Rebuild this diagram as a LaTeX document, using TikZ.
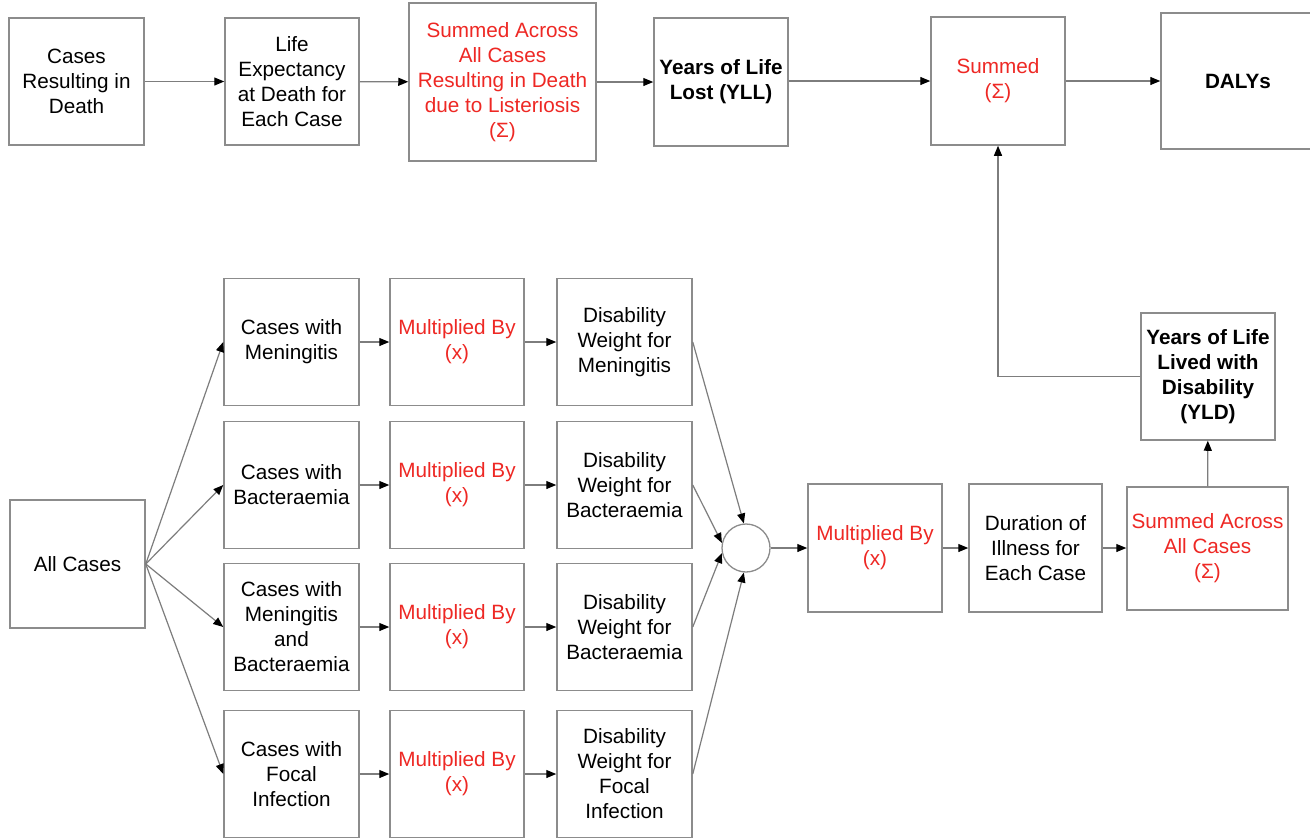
\documentclass[tikz,border=0pt]{standalone}
\usepackage{fontspec}
\setmainfont{Liberation Sans}
\usetikzlibrary{arrows.meta}
\definecolor{boxgray}{RGB}{140,140,140}
\definecolor{linegray}{RGB}{125,125,125}
\definecolor{redtxt}{RGB}{238,40,36}
\begin{document}
\begin{tikzpicture}[x=1pt,y=-1pt,
  box/.style={draw=boxgray,line width=1.5pt,rectangle,inner sep=0pt,align=center,
    font=\fontsize{20.7}{25}\selectfont,text=black},
  redt/.style={text=redtxt},
  boldt/.style={font=\fontsize{20.7}{25}\selectfont\bfseries},
  arr/.style={draw=linegray,line width=1.2pt,-{Triangle[length=10pt,width=8pt,color=black]}},
  conn/.style={draw=linegray,line width=1.2pt}]
\useasboundingbox (0,0) rectangle (1310,838);
\fill[white] (0,0) rectangle (1310,838);
% top row
\node[box,minimum width=135pt,minimum height=127pt] (d1) at (76.5,81.5) {Cases\\Resulting in\\Death};
\node[box,minimum width=134pt,minimum height=127pt] (d2) at (292,81.5) {Life\\Expectancy\\at Death for\\Each Case};
\node[box,redt,minimum width=187pt,minimum height=158pt] (d3) at (502.5,82) {Summed Across\\All Cases\\Resulting in Death\\due to Listeriosis\\(Σ)};
\node[box,boldt,minimum width=134pt,minimum height=128pt] (yll) at (721,82) {Years of Life\\Lost (YLL)};
\node[box,redt,minimum width=134pt,minimum height=128pt] (sum) at (998,81) {Summed\\(Σ)};
\node[box,boldt,minimum width=154pt,minimum height=136pt] (daly) at (1238,81) {DALYs};
\draw[arr] (d1) -- (d2);
\draw[arr] (d2) -- (d3);
\draw[arr] (d3) -- (yll.west|-d3.east);
\draw[arr] (yll.east|-sum.west) -- (sum);
\draw[arr] (sum.east) -- (daly.west);
% all cases
\node[box,minimum width=135pt,minimum height=128pt] (all) at (77.5,564) {All Cases};
% rows
\node[box,minimum width=135pt,minimum height=127pt] (c1) at (291.5,342) {Cases with\\Meningitis};
\node[box,minimum width=135pt,minimum height=127pt] (c2) at (291.5,485) {Cases with\\Bacteraemia};
\node[box,minimum width=135pt,minimum height=127pt] (c3) at (291.5,627) {Cases with\\Meningitis\\and\\Bacteraemia};
\node[box,minimum width=135pt,minimum height=127pt] (c4) at (291.5,774) {Cases with\\Focal\\Infection};
\foreach \i/\y in {1/342,2/485,3/627,4/774}{
  \node[box,redt,minimum width=134pt,minimum height=127pt] (m\i) at (457,\y) {Multiplied By\\(x)};
}
\node[box,minimum width=135pt,minimum height=127pt] (w1) at (624.5,342) {Disability\\Weight for\\Meningitis};
\node[box,minimum width=135pt,minimum height=127pt] (w2) at (624.5,485) {Disability\\Weight for\\Bacteraemia};
\node[box,minimum width=135pt,minimum height=127pt] (w3) at (624.5,627) {Disability\\Weight for\\Bacteraemia};
\node[box,minimum width=135pt,minimum height=127pt] (w4) at (624.5,774) {Disability\\Weight for\\Focal\\Infection};
\foreach \i in {1,2,3,4}{
  \draw[arr] (all.east) -- (c\i.west);
  \draw[arr] (c\i) -- (m\i);
  \draw[arr] (m\i) -- (w\i);
}
% circle
\node[circle,draw=boxgray,line width=1.3pt,minimum size=48pt,inner sep=0pt] (circ) at (746,548) {};
\draw[arr] (w1.east) -- (circ.95);
\draw[arr] (w2.east) -- (circ.168);
\draw[arr] (w3.east) -- (circ.192);
\draw[arr] (w4.east) -- (circ.265);
% right chain
\node[box,redt,minimum width=134pt,minimum height=128pt] (m5) at (875,548) {Multiplied By\\(x)};
\node[box,minimum width=133pt,minimum height=128pt] (dur) at (1035.5,548) {Duration of\\Illness for\\Each Case};
\node[box,redt,minimum width=161pt,minimum height=123pt] (sa) at (1207.5,548.5) {Summed Across\\All Cases\\(Σ)};
\node[box,boldt,minimum width=134pt,minimum height=127pt] (yld) at (1208,376.5) {Years of Life\\Lived with\\Disability\\(YLD)};
\draw[arr] (circ) -- (m5);
\draw[arr] (m5) -- (dur);
\draw[arr] (dur.east) -- (sa.west|-dur.east);
\draw[arr] (sa) -- (yld);
\draw[arr] (yld.west) -| (sum.south);
\end{tikzpicture}
\end{document}
